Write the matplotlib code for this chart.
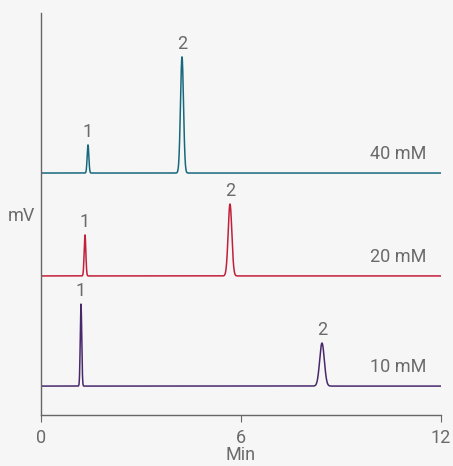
import matplotlib.pyplot as plt
import numpy as np

plt.rcParams['font.family'] = ['Roboto', 'DejaVu Sans']

# chromatogram traces (time in min, signal in arbitrary mV units)
labels = ['40 mM', '20 mM', '10 mM']
colors = ['#17687c', '#c21f3a', '#47286b']
baselines = [60.2, 34.6, 7.2]
peak_times = [[1.41, 4.23], [1.32, 5.67], [1.20, 8.43]]
peak_heights = [[7.0, 28.9], [10.2, 17.9], [20.4, 10.7]]
peak_widths = [[0.025, 0.045], [0.025, 0.055], [0.022, 0.07]]
peak_names = ['1', '2']

t = np.linspace(0, 12, 3000)

fig = plt.figure(figsize=(4.53, 4.66), dpi=100, facecolor='#f6f6f6')
ax = fig.add_axes([0.0905, 0.1094, 0.883, 0.8626])
ax.set_facecolor('#f6f6f6')

txt = '#6a6a6a'
for lab, c, b, pt, ph, pw in zip(labels, colors, baselines, peak_times, peak_heights, peak_widths):
    y = np.full_like(t, b)
    for p, h, w in zip(pt, ph, pw):
        y += h * np.exp(-0.5 * ((t - p) / w) ** 2)
    ax.plot(t, y, color=c, lw=1.1)
    for name, p, h in zip(peak_names, pt, ph):
        ax.text(p, b + h + 1.0, name, ha='center', va='bottom', fontsize=13, color=txt)
    ax.text(11.55, b + 2.5, lab, ha='right', va='bottom', fontsize=13, color=txt)

ax.set_xlim(0, 12)
ax.set_ylim(0, 100)
ax.set_xticks([0, 6, 12])
ax.set_yticks([])
for s in ['top', 'right']:
    ax.spines[s].set_visible(False)
for s in ['left', 'bottom']:
    ax.spines[s].set_color('#666666')
    ax.spines[s].set_linewidth(1.0)
ax.tick_params(axis='x', direction='out', length=5, color='#666666', labelsize=13,
               labelcolor=txt, pad=5)
ax.set_xlabel('Min', fontsize=13, color=txt, labelpad=-1)
ax.text(-0.05, 0.495, 'mV', transform=ax.transAxes, ha='center', va='center',
        fontsize=13, color=txt)

fig.savefig('out.png', dpi=100, facecolor=fig.get_facecolor())
